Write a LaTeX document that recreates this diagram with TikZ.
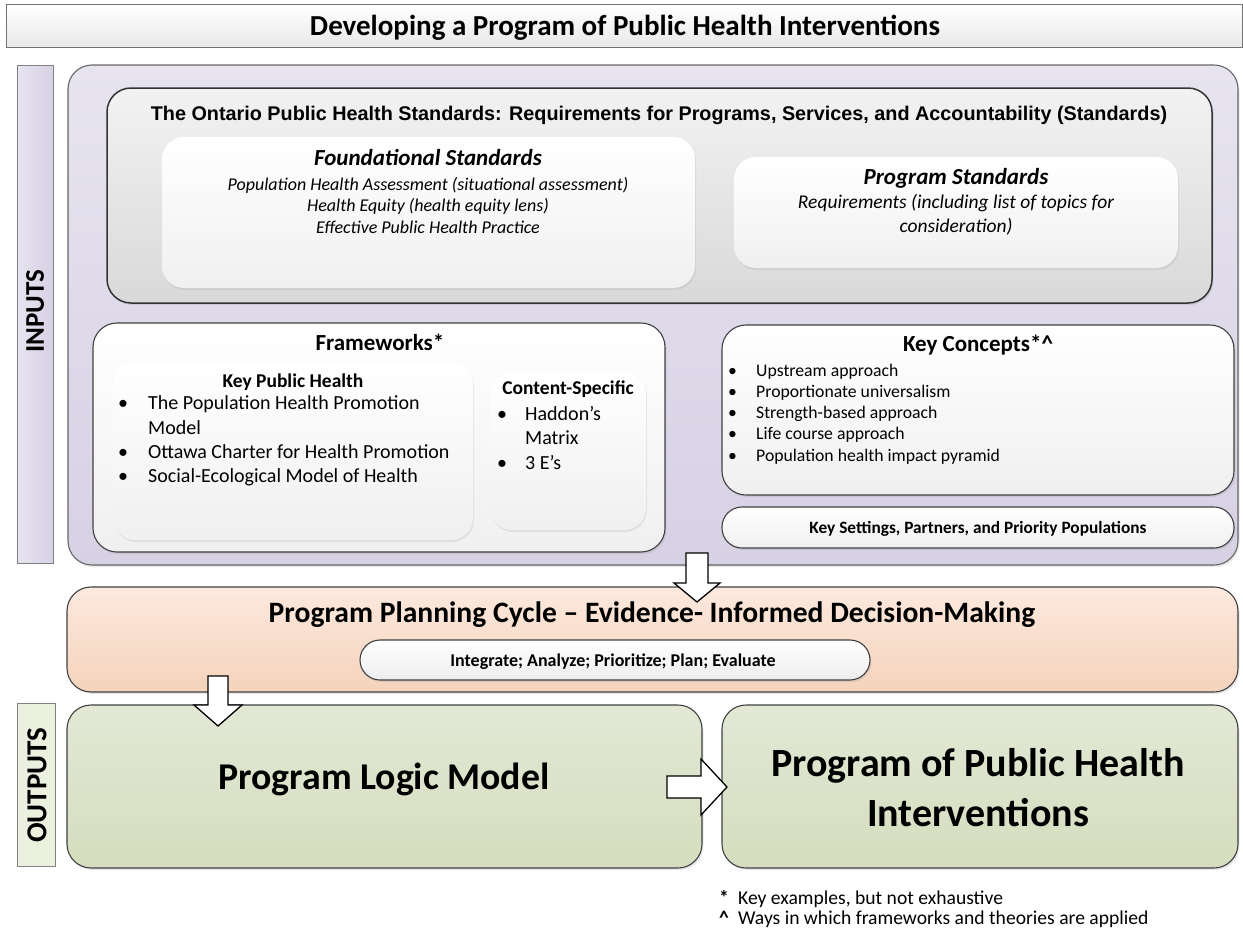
\documentclass[tikz,border=0pt]{standalone}
\usepackage{fontspec}
\setmainfont{Carlito}
\newfontfamily\arialfont{Liberation Sans}
\usetikzlibrary{positioning,shadows}

\definecolor{lavtop}{RGB}{231,228,240}
\definecolor{lavbot}{RGB}{215,209,228}
\definecolor{peachtop}{RGB}{252,233,222}
\definecolor{peachbot}{RGB}{245,211,188}
\definecolor{greentop}{RGB}{226,232,213}
\definecolor{greenbot}{RGB}{213,221,190}
\definecolor{outfill}{RGB}{235,240,223}

\begin{document}
\begin{tikzpicture}[x=1pt,y=-1pt,
  frame/.style={draw=black!75,line width=1.1pt,inner sep=0pt,rounded corners=24pt,
    drop shadow={opacity=0.18,shadow xshift=1.5pt,shadow yshift=-2pt}},
  soft/.style={inner sep=0pt,rounded corners=22pt,top color=white,bottom color=black!6,
    drop shadow={opacity=0.15,shadow xshift=1pt,shadow yshift=-2pt}},
  bar/.style={draw=black!50,line width=0.8pt,inner sep=0pt},
  blockarrow/.style={draw=black,line width=1.3pt,fill=white,line join=miter},
  head/.style={font=\bfseries\fontsize{23}{27}\selectfont},
  sub/.style={font=\bfseries\fontsize{19.5}{24}\selectfont},
  list/.style={anchor=west,align=left,inner sep=0pt}
]
\useasboundingbox (0,0) rectangle (1243,935);

%title
\node[bar,draw=black!55,top color=white,bottom color=black!9,minimum width=1236,minimum height=43] (title) at (624.5,26) {};
\node[font=\bfseries\fontsize{29}{33}\selectfont] (titletxt) at (625,28) {Developing a Program of Public Health Interventions};

%inputs
\node[bar,left color=lavtop,right color=lavbot,minimum width=36,minimum height=498] (inbar) at (35,314) {};
\node[rotate=90,font=\bfseries\fontsize{27}{30}\selectfont] (intxt) at (35,311) {INPUTS};
\node[frame,draw=black!60,top color=lavtop,bottom color=lavbot,minimum width=1170,minimum height=500] (inputs) at (653,315) {};

\node[frame,line width=1.5pt,draw=black!80,top color=black!5,bottom color=black!15,minimum width=1105,minimum height=215] (ophs) at (659.5,195.5) {};
\node[font=\arialfont\bfseries\fontsize{19.8}{23}\selectfont] (ophstxt) at (659,115.5) {The Ontario Public Health Standards: Requirements for Programs, Services, and Accountability (Standards)};

\node[soft,minimum width=533,minimum height=151] (found) at (428.5,212.5) {};
\node[head,font=\bfseries\itshape\fontsize{23}{27}\selectfont] (foundtxt) at (428,158) {Foundational Standards};
\node[align=center,font=\itshape\fontsize{18}{21.5}\selectfont] (foundlist) at (428,205) {Population Health Assessment (situational assessment)\\Health Equity (health equity lens)\\Effective Public Health Practice};

\node[soft,minimum width=444,minimum height=111] (progstd) at (956,212.5) {};
\node[head,font=\bfseries\itshape\fontsize{23}{27}\selectfont] (progstdtxt) at (956,178) {Program Standards};
\node[align=center,font=\itshape\fontsize{19.5}{24}\selectfont] (progstdlist) at (956,215) {Requirements (including list of topics for\\consideration)};

%frameworks
\node[frame,top color=white,bottom color=black!6,minimum width=572,minimum height=229] (fw) at (379,437.5) {};
\node[head] (fwtxt) at (380,342) {Frameworks*};
\node[soft,minimum width=360,minimum height=178] (keyph) at (293,451) {};
\node[sub] (keyphtxt) at (293,382) {Key Public Health};
\node[list,font=\fontsize{20}{24.2}\selectfont] (keyphlist) at (118,441) {%
  \makebox[30pt][l]{\textbullet}The Population Health Promotion\\
  \makebox[30pt][l]{}Model\\
  \makebox[30pt][l]{\textbullet}Ottawa Charter for Health Promotion\\
  \makebox[30pt][l]{\textbullet}Social-Ecological Model of Health};
\node[soft,minimum width=156,minimum height=157] (content) at (568,451.5) {};
\node[sub] (contenttxt) at (568,389) {Content-Specific};
\node[list,font=\fontsize{20}{24.5}\selectfont] (contentlist) at (497,438) {%
  \makebox[28pt][l]{\textbullet}Haddon’s\\
  \makebox[28pt][l]{}Matrix\\
  \makebox[28pt][l]{\textbullet}3 E’s};

%key concepts
\node[frame,top color=white,bottom color=black!6,minimum width=512,minimum height=170] (concepts) at (978,410) {};
\node[head] (conceptstxt) at (978,345) {Key Concepts*\textasciicircum};
\node[list,font=\fontsize{17.7}{21.2}\selectfont] (conceptslist) at (728,414) {%
  \makebox[28pt][l]{\textbullet}Upstream approach\\
  \makebox[28pt][l]{\textbullet}Proportionate universalism\\
  \makebox[28pt][l]{\textbullet}Strength-based approach\\
  \makebox[28pt][l]{\textbullet}Life course approach\\
  \makebox[28pt][l]{\textbullet}Population health impact pyramid};
\node[frame,rounded corners=20pt,top color=white,bottom color=black!6,minimum width=512,minimum height=41] (settings) at (978,527.5) {};
\node[font=\bfseries\fontsize{17.3}{20}\selectfont] (settingstxt) at (978,529) {Key Settings, Partners, and Priority Populations};

%planning
\node[frame,top color=peachtop,bottom color=peachbot,minimum width=1171,minimum height=105] (plan) at (652.5,639.5) {};
\node[font=\bfseries\fontsize{29.6}{34}\selectfont] (plantxt) at (652,615) {Program Planning Cycle – Evidence- Informed Decision-Making};
\node[frame,rounded corners=20pt,top color=white,bottom color=black!7,minimum width=510,minimum height=40] (steps) at (615,660) {};
\node[font=\bfseries\fontsize{18}{21}\selectfont] (stepstxt) at (613,662) {Integrate; Analyze; Prioritize; Plan; Evaluate};

%outputs
\node[bar,fill=outfill,minimum width=38,minimum height=163] (outbar) at (36,784.5) {};
\node[rotate=90,font=\bfseries\fontsize{29}{32}\selectfont] (outtxt) at (37,785) {OUTPUTS};
\node[frame,top color=greentop,bottom color=greenbot,minimum width=635,minimum height=163] (logic) at (384.5,786.5) {};
\node[font=\bfseries\fontsize{37.8}{44}\selectfont] (logictxt) at (384,779) {Program Logic Model};
\node[frame,top color=greentop,bottom color=greenbot,minimum width=516,minimum height=163] (interv) at (980,786.5) {};
\node[font=\bfseries\fontsize{40}{50}\selectfont,align=center] (intervtxt) at (978,788) {Program of Public Health\\Interventions};

%block arrows
\draw[blockarrow] (686,553) -- (708,553) -- (708,583) -- (720,583) -- (697,602) -- (674,583) -- (686,583) -- cycle;
\draw[blockarrow] (208,676) -- (228,676) -- (228,705) -- (242,705) -- (218,726) -- (194,705) -- (208,705) -- cycle;
\draw[blockarrow] (667,776) -- (701,776) -- (701,759) -- (727,787) -- (701,815) -- (701,798) -- (667,798) -- cycle;

%notes
\node[list,font=\fontsize{19.6}{19.5}\selectfont] (notes) at (719,909) {%
  \makebox[19pt][l]{\bfseries *}Key examples, but not exhaustive\\
  \makebox[19pt][l]{\bfseries\textasciicircum}Ways in which frameworks and theories are applied};
\end{tikzpicture}
\end{document}
